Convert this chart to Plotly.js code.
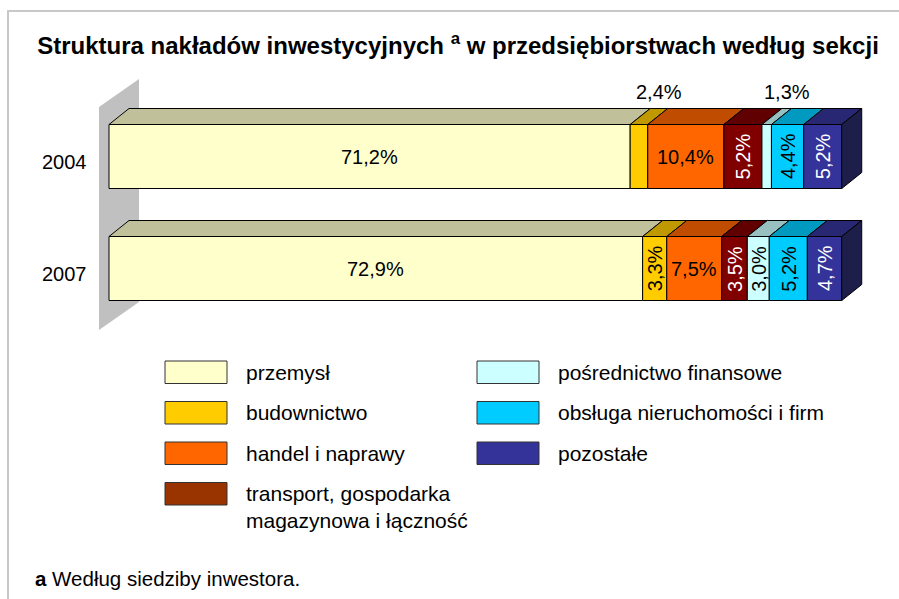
<!DOCTYPE html>
<html><head><meta charset="utf-8">
<script src="https://cdn.plot.ly/plotly-3.0.1.min.js"></script>
<style>html,body{margin:0;padding:0;background:#fff}#chart{width:899px;height:599px}</style>
</head><body><div id="chart"></div>
<script>
// ---------- data ----------
const years = ['2004', '2007'];
const sections = ['przemysł', 'budownictwo', 'handel i naprawy',
  'transport, gospodarka<br>magazynowa i łączność',
  'pośrednictwo finansowe', 'obsługa nieruchomości i firm', 'pozostałe'];
const values2004 = [71.2, 2.4, 10.4, 5.2, 1.3, 4.4, 5.2];
const values2007 = [72.9, 3.3, 7.5, 3.5, 3.0, 5.2, 4.7];
// label placement: h = horizontal inside, v = vertical inside, top = above the bar
const labelStyle2004 = ['h', 'top', 'h', 'v', 'top', 'v', 'v'];
const labelStyle2007 = ['h', 'v', 'h', 'v', 'v', 'v', 'v'];

// ---------- styles ----------
const frontColors = ['#FFFFCC', '#FFCC00', '#FF6600', '#800000', '#CCFFFF', '#00CCFF', '#333399'];
const topColors = ['#C0C09A', '#C09900', '#C04C00', '#600000', '#99C0C0', '#0099C0', '#272773'];
const legendColors = ['#FFFFCC', '#FFCC00', '#FF6600', '#993300', '#CCFFFF', '#00CCFF', '#333399'];
const labelColors = ['#000', '#000', '#000', '#fff', '#000', '#000', '#fff'];
const sideColor = '#1E1E4A';
const FONT = 'Liberation Sans, Arial, sans-serif';

const W = 899, H = 599;
const L = 94, R = 30, T = 70, B = 259;
const plotW = W - L - R, plotH = H - T - B;
const pxX = 7.32, x0px = 109;
const xmin = -(x0px - L) / pxX, xmax = xmin + plotW / pxX;
const pxY = 112, y0px = 156.5;
const ytop = -(y0px - T) / pxY, ybot = ytop + plotH / pxY;
const barW = 64 / pxY;
const dX = 20 / pxX, dY = 16 / pxY;
const pX = p => (p - L) / plotW;
const pY = p => (T + plotH - p) / plotH;
const dataY = p => (p - y0px) / pxY;
const dataX = p => (p - x0px) / pxX;

const rows = [values2004, values2007];
const styles = [labelStyle2004, labelStyle2007];
const cums = rows.map(v => { let c = 0; return v.map(x => { const s = c; c += x; return s; }); });
const totals = rows.map(v => v.reduce((a, b) => a + b, 0));
const fmt = v => v.toFixed(1).replace('.', ',') + '%';

const traces = [];
// front faces (bars)
sections.forEach((name, k) => {
  traces.push({
    type: 'bar', orientation: 'h', name: name,
    y: rows.map((r, i) => i),
    x: rows.map(r => r[k]),
    base: cums.map(c => c[k]),
    width: barW,
    marker: { color: frontColors[k], line: { color: '#000', width: 1 } },
    hoverinfo: 'skip', showlegend: false
  });
});
// top faces
sections.forEach((name, k) => {
  const xs = [], ys = [];
  rows.forEach((r, i) => {
    const s = cums[i][k], e = s + r[k], yf = i - barW / 2, yb = yf - dY;
    xs.push(s, e, e + dX, s + dX, s, null);
    ys.push(yf, yf, yb, yb, yf, null);
  });
  traces.push({
    type: 'scatter', mode: 'lines', x: xs, y: ys, fill: 'toself',
    fillcolor: topColors[k], line: { color: '#000', width: 1 },
    hoverinfo: 'skip', showlegend: false
  });
});
// right side face
{
  const xs = [], ys = [];
  rows.forEach((r, i) => {
    const e = totals[i], yf = i - barW / 2, yl = i + barW / 2;
    xs.push(e, e + dX, e + dX, e, e, null);
    ys.push(yf, yf - dY, yl - dY, yl, yf, null);
  });
  traces.push({
    type: 'scatter', mode: 'lines', x: xs, y: ys, fill: 'toself',
    fillcolor: sideColor, line: { color: '#000', width: 1 },
    hoverinfo: 'skip', showlegend: false
  });
}

const annotations = [];
// value labels
rows.forEach((r, i) => {
  r.forEach((v, k) => {
    const st = styles[i][k];
    const cx = cums[i][k] + v / 2;
    if (st === 'top') {
      annotations.push({
        x: cx + dX, y: i - barW / 2 - dY, xref: 'x', yref: 'y', text: fmt(v),
        showarrow: false, yanchor: 'middle', xanchor: 'center', yshift: 16.5,
        font: { family: FONT, size: 20, color: '#000' }
      });
    } else {
      annotations.push({
        x: cx, y: i, xref: 'x', yref: 'y', text: fmt(v), showarrow: false,
        textangle: st === 'v' ? -90 : 0, xanchor: 'center', yanchor: 'middle',
        font: { family: FONT, size: 20, color: labelColors[k] }
      });
    }
  });
});
// year labels
years.forEach((yr, i) => {
  annotations.push({
    x: pX(89), xref: 'paper', y: i, yref: 'y', yshift: -5.5, text: yr,
    showarrow: false, xanchor: 'right', yanchor: 'middle',
    font: { family: FONT, size: 20, color: '#000' }
  });
});

const shapes = [];
// gray wall
{
  const xf = dataX(99), xb = dataX(139);
  shapes.push({
    type: 'path', xref: 'x', yref: 'y', layer: 'below',
    path: `M ${xf} ${dataY(107)} L ${xb} ${dataY(79)} L ${xb} ${dataY(302)} L ${xf} ${dataY(330)} Z`,
    fillcolor: '#C0C0C0', line: { width: 0 }
  });
}
// outer border
shapes.push({
  type: 'rect', xref: 'paper', yref: 'paper',
  x0: pX(8), x1: pX(920), y0: pY(11), y1: pY(640),
  line: { color: '#C8C8C8', width: 2 }, fillcolor: 'rgba(0,0,0,0)'
});

// custom legend (two columns)
const legCols = [{ box: 165, text: 244 }, { box: 477, text: 556 }];
const legRowTop = [361, 401.5, 442, 482.5];
sections.forEach((name, k) => {
  const col = k < 4 ? 0 : 1, row = k < 4 ? k : k - 4;
  const top = legRowTop[row], bh = 22.5;
  shapes.push({
    type: 'rect', xref: 'paper', yref: 'paper',
    x0: pX(legCols[col].box), x1: pX(legCols[col].box + 62),
    y0: pY(top + bh), y1: pY(top),
    fillcolor: legendColors[k], line: { color: '#333', width: 1 }
  });
  const multi = name.indexOf('<br>') >= 0;
  annotations.push({
    x: pX(legCols[col].text), xref: 'paper', xanchor: 'left',
    y: pY(multi ? 507.5 : top + bh / 2), yref: 'paper', yanchor: 'middle',
    text: name, showarrow: false, align: 'left',
    font: { family: FONT, size: 21, color: '#000' }
  });
});
// footnote
annotations.push({
  x: pX(33), xref: 'paper', xanchor: 'left', y: pY(578), yref: 'paper', yanchor: 'middle',
  text: '<b>a</b> Według siedziby inwestora.', showarrow: false,
  font: { family: FONT, size: 20.5, color: '#000' }
});

const layout = {
  width: W, height: H,
  margin: { l: L, r: R, t: T, b: B, pad: 0 },
  paper_bgcolor: '#fff', plot_bgcolor: 'rgba(0,0,0,0)',
  barmode: 'overlay', showlegend: false,
  title: {
    text: '<b>Struktura nakładów inwestycyjnych <sup>a</sup> w przedsiębiorstwach według sekcji</b>',
    font: { family: FONT, size: 24, color: '#000' },
    x: 458 / W, xref: 'container', xanchor: 'center',
    y: 1 - 46 / H, yref: 'container', yanchor: 'middle'
  },
  xaxis: { range: [xmin, xmax], visible: false, fixedrange: true },
  yaxis: { range: [ybot, ytop], visible: false, fixedrange: true },
  shapes: shapes, annotations: annotations
};

Plotly.newPlot('chart', traces, layout, { staticPlot: true, displayModeBar: false });
</script>
</body></html>
